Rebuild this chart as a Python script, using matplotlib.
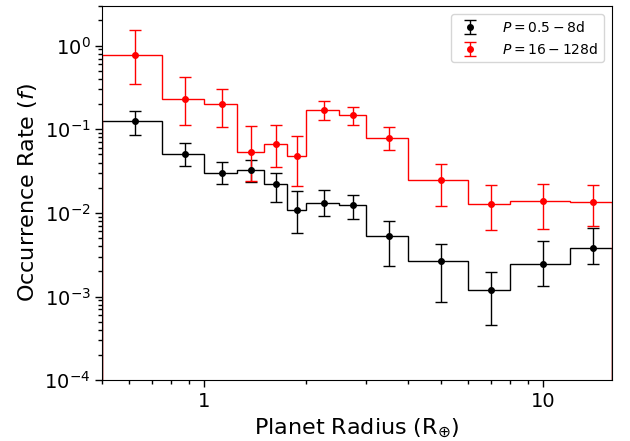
import matplotlib
matplotlib.use("Agg")
import matplotlib.pyplot as plt
import numpy as np
from matplotlib.ticker import StrMethodFormatter, NullFormatter

# radius bins (Earth radii) and bin centres
edges = [0.5, 0.75, 1.0, 1.25, 1.5, 1.75, 2.0, 2.5, 3.0, 4.0, 6.0, 8.0, 12.0, 16.0]
centers = [0.625, 0.875, 1.125, 1.375, 1.625, 1.875, 2.25, 2.75, 3.5, 5.0, 7.0, 10.0, 14.0]

# P = 0.5 - 8 d
f_short = [0.127, 0.0507, 0.0297, 0.0326, 0.0219, 0.0108, 0.0133, 0.0124, 0.00525, 0.00263, 0.0012, 0.00245, 0.00377]
hi_short = [0.164, 0.068, 0.0406, 0.043, 0.030, 0.0181, 0.0187, 0.0165, 0.008, 0.0042, 0.00198, 0.00457, 0.00655]
lo_short = [0.085, 0.0364, 0.0221, 0.0235, 0.0134, 0.0057, 0.0091, 0.0085, 0.00234, 0.00086, 0.000454, 0.00134, 0.00247]

# P = 16 - 128 d
f_long = [0.776, 0.23, 0.198, 0.0531, 0.0675, 0.0484, 0.171, 0.149, 0.0797, 0.0247, 0.0129, 0.0137, 0.0134]
hi_long = [1.53, 0.426, 0.303, 0.11, 0.111, 0.083, 0.217, 0.184, 0.107, 0.038, 0.0215, 0.0224, 0.0213]
lo_long = [0.348, 0.113, 0.105, 0.024, 0.0354, 0.0211, 0.130, 0.111, 0.0566, 0.0122, 0.0062, 0.0064, 0.0069]

fig, ax = plt.subplots(figsize=(6.3, 4.41), dpi=100)
fig.subplots_adjust(left=0.1624, right=0.972, bottom=0.138, top=0.987)

for f, hi, lo, col, lab in [(f_short, hi_short, lo_short, "k", r"$P = 0.5 - 8$d"),
                            (f_long, hi_long, lo_long, "r", r"$P = 16 - 128$d")]:
    f = np.array(f)
    yerr = [f - np.array(lo), np.array(hi) - f]
    ax.stairs(f, edges, baseline=1e-6, color=col, lw=1)
    ax.errorbar(centers, f, yerr=yerr, fmt="o", color=col, ms=4, capsize=4, elinewidth=1, label=lab)

ax.set_xscale("log")
ax.set_yscale("log")
ax.set_xlim(0.5, 16)
ax.set_ylim(1e-4, 3)
ax.xaxis.set_major_formatter(StrMethodFormatter("{x:g}"))
ax.xaxis.set_minor_formatter(NullFormatter())
ax.tick_params(which="major", labelsize=14, length=5, width=1)
ax.tick_params(which="minor", length=3, width=1)

ax.set_xlabel(r"Planet Radius (R$_{\oplus}$)", fontsize=16)
ax.set_ylabel(r"Occurrence Rate ($f$)", fontsize=16)
ax.legend(loc="upper right", fontsize=10, handletextpad=1.3, borderaxespad=0.6)

plt.savefig("out.png")
